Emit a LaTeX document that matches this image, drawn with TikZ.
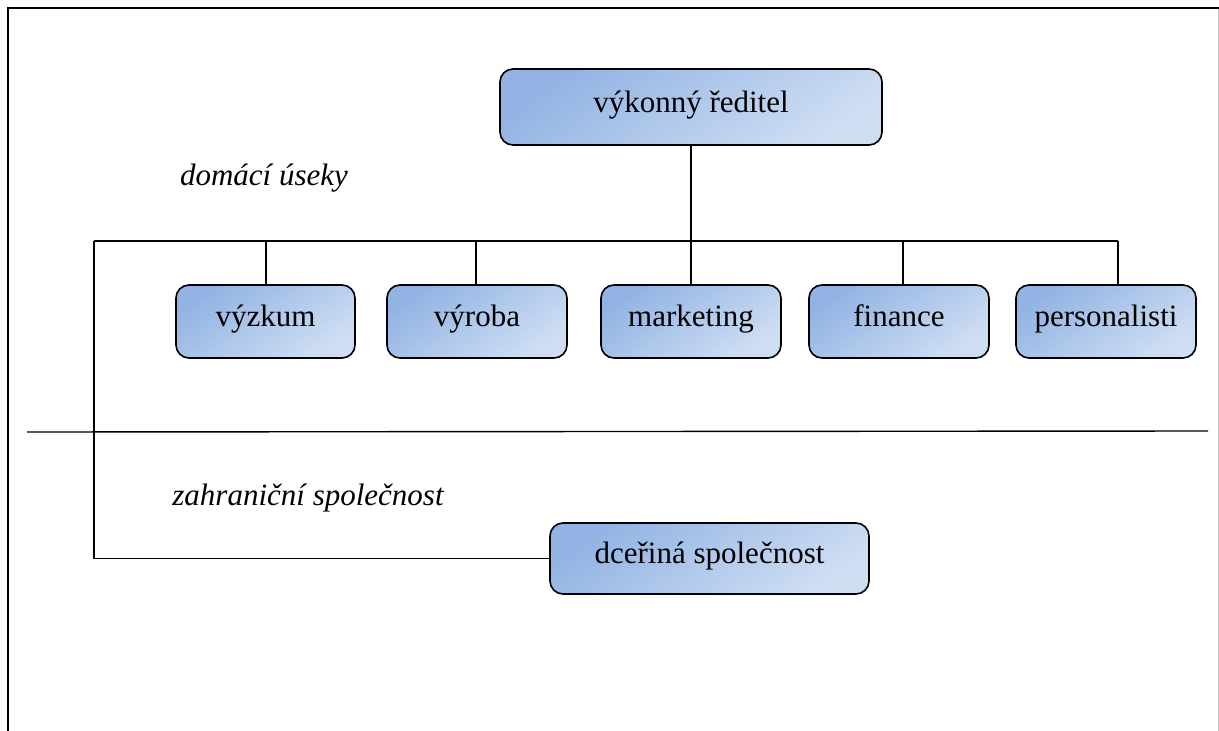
\documentclass[tikz,border=0pt]{standalone}
\usepackage{fontspec}
\setmainfont{Liberation Serif}
\definecolor{boxdark}{RGB}{146,179,227}
\definecolor{boxlight}{RGB}{207,222,243}
\tikzset{
  unit/.style={draw=black, line width=1.6pt, rounded corners=13pt,
    top color=boxdark, bottom color=boxlight, shading angle=35,
    inner sep=0pt, text height=20pt, text depth=10pt,
    font=\fontsize{31}{36}\selectfont},
  caption/.style={font=\fontsize{31}{36}\selectfont\itshape, inner sep=0pt, anchor=base},
  wire/.style={line width=1.4pt, black}
}
\begin{document}
\begin{tikzpicture}[x=1pt, y=-1pt]
\useasboundingbox (0,0) rectangle (1219,731);

% page frame
\draw[line width=2.8pt] (8,731) -- (8,8) -- (1219,8);
\draw[line width=1pt, black!25] (1218,9) -- (1218,731);

% units
\node[unit, minimum width=382pt, minimum height=76pt] (ceo) at (691,107) {výkonný ředitel};
\node[unit, minimum width=179pt, minimum height=73pt] (vyzkum) at (265.5,321.5) {výzkum};
\node[unit, minimum width=180pt, minimum height=73pt] (vyroba) at (477,321.5) {výroba};
\node[unit, minimum width=180pt, minimum height=73pt] (marketing) at (691,321.5) {marketing};
\node[unit, minimum width=180pt, minimum height=73pt] (finance) at (899,321.5) {finance};
\node[unit, minimum width=180pt, minimum height=73pt] (pers) at (1106,321.5) {personalisti};
\node[unit, minimum width=319pt, minimum height=71pt] (dcera) at (709.5,558.5) {dceřiná společnost};

% section captions
\node[caption] (dom) at (264,185) {domácí úseky};
\node[caption] (zahr) at (308,505) {zahraniční společnost};

% bus points
\coordinate (busL) at (94,241);
\coordinate (busR) at (1118,241);
\coordinate (fin) at (903,241);
\coordinate (vyz) at (266,241);
\coordinate (vyr) at (476,241);

% connectors
\draw[wire] (busL) -- (busR);
\draw[wire] (ceo.south) -- (marketing.north);
\draw[wire] (vyz) -- (vyz |- vyzkum.north);
\draw[wire] (vyr) -- (vyr |- vyroba.north);
\draw[wire] (fin) -- (fin |- finance.north);
\draw[wire] (busR) -- (busR |- pers.north);
\draw[wire] (busL) |- (dcera.west);

% divider between domestic and foreign parts
\coordinate (divL) at (27,432);
\coordinate (divR) at (1208,431);
\draw[wire] (divL) -- (divR);
\end{tikzpicture}
\end{document}
